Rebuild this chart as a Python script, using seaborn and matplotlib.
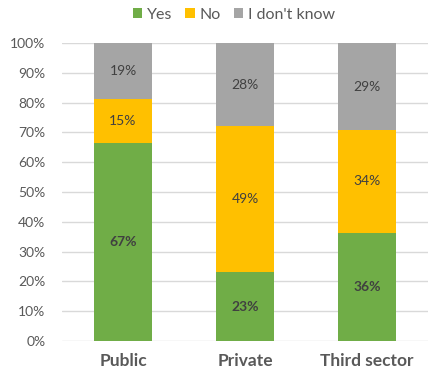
import matplotlib
matplotlib.use("Agg")
import matplotlib.pyplot as plt
import matplotlib.ticker as mticker
from matplotlib.patches import Patch
import numpy as np
import pandas as pd
import seaborn as sns

sectors = ["Public", "Private", "Third sector"]
yes = [67, 23, 36]
no = [15, 49, 34]
dont_know = [19, 28, 29]
answers = ["Yes", "No", "I don't know"]
colors = ["#70AD47", "#FFC000", "#A5A5A5"]

sns.set_theme(style="white")
plt.rcParams["font.family"] = ["Lato", "DejaVu Sans"]

raw = np.array([yes, no, dont_know], dtype=float)
shares = raw / raw.sum(axis=0) * 100
cum = np.cumsum(shares, axis=0)

fig = plt.figure(figsize=(4.29, 3.79), dpi=100)
ax = fig.add_axes([62 / 429, 38 / 379, 366 / 429, 298 / 379])

# stacked bars: draw cumulative totals from the top segment down
for i in [2, 1, 0]:
    df = pd.DataFrame({"sector": sectors, "value": cum[i]})
    sns.barplot(data=df, x="sector", y="value", color=colors[i], width=0.475,
                saturation=1, ax=ax, zorder=2, linewidth=0)

# segment labels
for j in range(len(sectors)):
    for i in range(3):
        bottom = cum[i - 1][j] if i > 0 else 0
        mid = bottom + shares[i][j] / 2
        ax.text(j, mid, f"{int(raw[i][j])}%", ha="center", va="center",
                fontsize=10, color="#404040",
                fontweight="bold" if i == 0 else "normal", zorder=3)

ax.set_ylim(0, 100)
ax.set_xlim(-0.5, 2.5)
ax.yaxis.set_major_locator(mticker.MultipleLocator(10))
ax.yaxis.set_major_formatter(mticker.FuncFormatter(lambda v, p: f"{int(v)}%"))
ax.grid(axis="y", color="#D9D9D9", linewidth=1, zorder=0)
ax.set_axisbelow(True)
for s in ax.spines.values():
    s.set_visible(False)
ax.set_xlabel("")
ax.set_ylabel("")
ax.tick_params(axis="y", length=0, labelsize=10, labelcolor="#595959", pad=12)
ax.tick_params(axis="x", length=0, labelsize=12.5, labelcolor="#595959", pad=9)
for lbl in ax.get_xticklabels():
    lbl.set_fontweight("bold")

handles = [Patch(facecolor=c, edgecolor="none") for c in colors]
fig.legend(handles, answers, loc="center", bbox_to_anchor=(234 / 429, 1 - 15 / 379),
           ncol=3, frameon=False, fontsize=11.5, handlelength=0.6, handleheight=0.6,
           handletextpad=0.3, columnspacing=0.8, labelcolor="#595959")

fig.savefig("out.png", dpi=100)
